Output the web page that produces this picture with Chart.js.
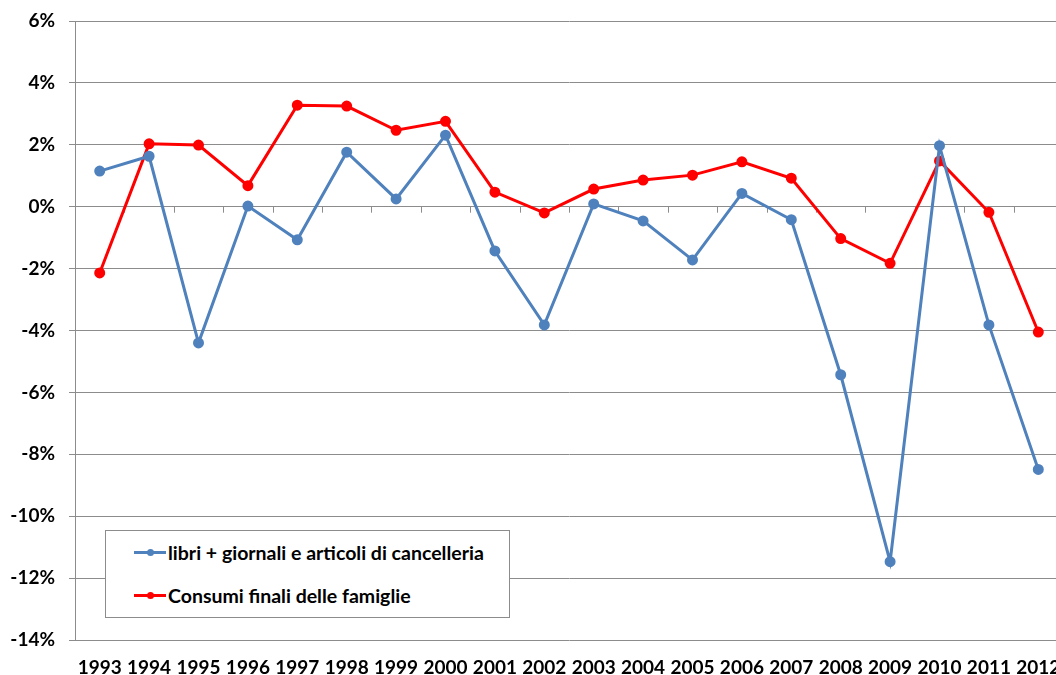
<!DOCTYPE html>
<html>
<head>
<meta charset="utf-8">
<script src="https://cdn.jsdelivr.net/npm/chart.js@4.4.1/dist/chart.umd.min.js"></script>
<style>
  html, body { margin: 0; padding: 0; background: #fff; overflow: hidden; width: 1056px; height: 675px; }
  #wrap { position: relative; width: 1070px; height: 675px; }
  #legend {
    position: absolute; left: 105px; top: 530px; width: 403px; height: 86px;
    border: 1px solid #8c8c8c; background: #fff;
    font-family: Lato, "Open Sans", sans-serif; font-weight: bold; font-size: 19.5px; color: #000;
  }
  .item { position: absolute; left: 28px; display: flex; align-items: center; height: 24px; }
  .swatch { position: relative; width: 32px; height: 3px; margin-right: 2px; }
  .swatch span { position: absolute; left: 13px; top: -2px; width: 7px; height: 7px; border-radius: 50%; }
</style>
</head>
<body>
<div id="wrap">
  <canvas id="c" width="1070" height="675"></canvas>
  <div id="legend"></div>
</div>
<script>
const years = ['1993','1994','1995','1996','1997','1998','1999','2000','2001','2002','2003','2004','2005','2006','2007','2008','2009','2010','2011','2012'];
const libri = [1.15, 1.63, -4.4, 0.02, -1.07, 1.76, 0.25, 2.31, -1.43, -3.82, 0.09, -0.46, -1.72, 0.43, -0.42, -5.43, -11.47, 1.97, -3.82, -8.49];
const consumi = [-2.14, 2.03, 1.99, 0.68, 3.28, 3.25, 2.47, 2.76, 0.47, -0.2, 0.57, 0.86, 1.02, 1.45, 0.92, -1.03, -1.83, 1.48, -0.18, -4.05];
const seriesNames = ['libri + giornali e articoli di cancelleria', 'Consumi finali delle famiglie'];
const seriesColors = ['#4F81BD', '#FF0000'];
const yMin = -14, yMax = 6, yStep = 2;

const zeroTicks = {
  id: 'zeroTicks',
  beforeDatasetsDraw(chart) {
    const x = chart.scales.x, y = chart.scales.y;
    const ctx = chart.ctx;
    const y0 = y.getPixelForValue(0);
    const n = years.length;
    const bw = (x.right - x.left) / n;
    ctx.save();
    ctx.strokeStyle = '#8c8c8c';
    ctx.lineWidth = 1;
    ctx.beginPath();
    for (let i = 1; i <= n; i++) {
      const px = Math.round(x.left + i * bw) + 0.5;
      ctx.moveTo(px, y0);
      ctx.lineTo(px, y0 + 6);
    }
    ctx.stroke();
    ctx.restore();
  }
};

const fontSpec = { family: 'Lato, "Open Sans", sans-serif', size: 19, weight: 'bold' };

new Chart(document.getElementById('c'), {
  type: 'line',
  data: {
    labels: years,
    datasets: [
      { label: seriesNames[0], data: libri, borderColor: seriesColors[0], backgroundColor: seriesColors[0],
        borderWidth: 3, pointRadius: 4, pointHoverRadius: 4, tension: 0 },
      { label: seriesNames[1], data: consumi, borderColor: seriesColors[1], backgroundColor: seriesColors[1],
        borderWidth: 3, pointRadius: 4, pointHoverRadius: 4, tension: 0 }
    ]
  },
  options: {
    responsive: false,
    animation: false,
    events: [],
    layout: { padding: { top: 21, right: 2, left: 0, bottom: 0 } },
    plugins: { legend: { display: false }, tooltip: { enabled: false } },
    scales: {
      x: {
        offset: true,
        grid: { display: false },
        border: { display: false },
        ticks: { color: '#000', font: fontSpec, padding: 8, maxRotation: 0, autoSkip: false },
        afterFit(s) { s.height = 35; }
      },
      y: {
        min: yMin, max: yMax,
        grid: { color: '#8c8c8c', lineWidth: 1, tickLength: 6, drawTicks: true, tickColor: '#8c8c8c' },
        border: { display: true, color: '#8c8c8c', width: 1 },
        ticks: { stepSize: yStep, color: '#000', font: fontSpec, padding: 14,
          callback: v => v + '%' },
        afterFit(s) { s.width = 75; s.paddingTop = 0; s.paddingBottom = 0; }
      }
    }
  },
  plugins: [zeroTicks]
});

const legend = document.getElementById('legend');
seriesNames.forEach((name, i) => {
  const item = document.createElement('div');
  item.className = 'item';
  item.style.top = (i === 0 ? 9 : 52) + 'px';
  const sw = document.createElement('div');
  sw.className = 'swatch';
  sw.style.background = seriesColors[i];
  const dot = document.createElement('span');
  dot.style.background = seriesColors[i];
  sw.appendChild(dot);
  const txt = document.createElement('div');
  txt.textContent = name;
  item.appendChild(sw);
  item.appendChild(txt);
  legend.appendChild(item);
});
</script>
</body>
</html>
